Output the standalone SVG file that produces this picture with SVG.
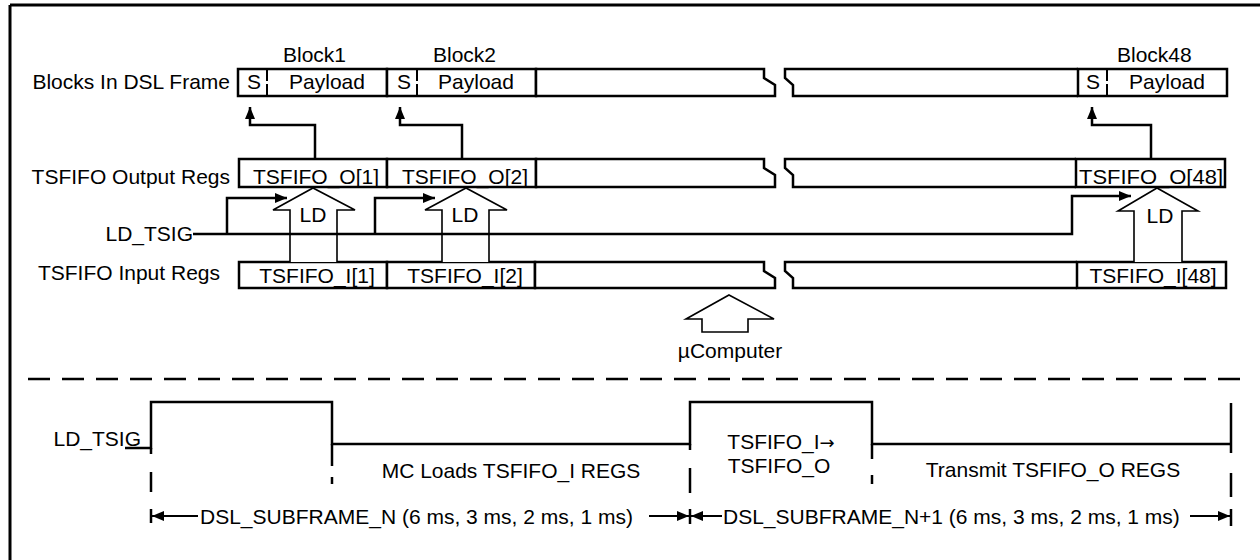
<svg xmlns="http://www.w3.org/2000/svg" width="1260" height="560" viewBox="0 0 1260 560">
<defs>
<style>
text{font-family:"Liberation Sans",Arial,sans-serif;font-size:21px;fill:#000}
.m{text-anchor:middle}
.e{text-anchor:end}
.b{fill:#fff;stroke:#000;stroke-width:2.5}
.ln{fill:none;stroke:#000;stroke-width:2.5}
.th{fill:#fff;stroke:#000;stroke-width:1.6}
.dv{stroke:#000;stroke-width:2;stroke-dasharray:12 3}
</style>
<marker id="ah" viewBox="0 0 12 10" refX="12" refY="5" markerWidth="12" markerHeight="10" markerUnits="userSpaceOnUse" orient="auto">
<path d="M0,0 L12,5 L0,10 Z" fill="#000"/>
</marker>
</defs>
<rect x="0" y="0" width="1260" height="560" fill="#fff"/>
<g id="frame">
<line x1="10" y1="5" x2="1260" y2="5" stroke="#000" stroke-width="3"/>
<line x1="10" y1="5" x2="10" y2="560" stroke="#000" stroke-width="3"/>
</g>
<g id="labels">
<text class="e" x="230" y="89">Blocks In DSL Frame</text>
<text class="e" x="230" y="184">TSFIFO Output Regs</text>
<text class="e" x="220" y="280">TSFIFO Input Regs</text>
<text class="e" x="193" y="241">LD_TSIG</text>
<text x="283" y="62">Block1</text>
<text x="433" y="62">Block2</text>
<text x="1117" y="62">Block48</text>
</g>
<g id="row-frame">
<rect class="b" x="238" y="69" width="149" height="27"/>
<line class="dv" x1="267" y1="69" x2="267" y2="96"/>
<text class="m" x="254" y="89">S</text>
<text class="m" x="327" y="89">Payload</text>
<rect class="b" x="387" y="69" width="149" height="27"/>
<line class="dv" x1="417" y1="69" x2="417" y2="96"/>
<text class="m" x="404" y="89">S</text>
<text class="m" x="476" y="89">Payload</text>
<path class="b" d="M536,69 H764 V78 L775,85 V96 H536 Z"/>
<path class="b" d="M1078,69 H785 V78 L793,85 V96 H1078"/>
<rect class="b" x="1078" y="69" width="149" height="27"/>
<line class="dv" x1="1107" y1="69" x2="1107" y2="96"/>
<text class="m" x="1093" y="89">S</text>
<text class="m" x="1167" y="89">Payload</text>
</g>
<g id="row-output">
<rect class="b" x="239" y="159" width="148" height="28"/>
<text class="m" x="316" y="184">TSFIFO_O[1]</text>
<rect class="b" x="387" y="159" width="149" height="28"/>
<text class="m" x="465" y="184">TSFIFO_O[2]</text>
<path class="b" d="M536,159 H764 V168 L775,175 V187 H536 Z"/>
<path class="b" d="M1076,159 H785 V168 L793,175 V187 H1076"/>
<rect class="b" x="1076" y="159" width="149" height="28"/>
<text class="m" x="1151" y="184" textLength="144" lengthAdjust="spacingAndGlyphs">TSFIFO_O[48]</text>
</g>
<g id="row-input">
<rect class="b" x="239" y="262" width="148" height="26"/>
<text class="m" x="317" y="283">TSFIFO_I[1]</text>
<rect class="b" x="387" y="262" width="148" height="26"/>
<text class="m" x="465" y="283">TSFIFO_I[2]</text>
<path class="b" d="M535,262 H764 V271 L775,278 V288 H535 Z"/>
<path class="b" d="M1077,262 H785 V271 L793,278 V288 H1077"/>
<rect class="b" x="1077" y="262" width="149" height="26"/>
<text class="m" x="1153" y="283">TSFIFO_I[48]</text>
</g>
<g id="ld-arrow-1">
<path class="th" d="M290,262 V210 H273 L313,188 L355,210 H337 V262"/>
<text class="m" x="313" y="222">LD</text>
</g>
<g id="ld-arrow-2">
<path class="th" d="M442,262 V210 H425 L466,188 L507,210 H489 V262"/>
<text class="m" x="465" y="222">LD</text>
</g>
<g id="ld-arrow-48">
<path class="th" d="M1134,262 V211 H1118 L1157,188 L1198,211 H1182 V262"/>
<text class="m" x="1160" y="223">LD</text>
</g>
<g id="ucomputer">
<path class="th" d="M729,295 L774,319 H748 V332 H702 V319 H686 Z"/>
<text class="m" x="730" y="358">µComputer</text>
</g>
<g id="connectors">
<path class="ln" d="M315,159 V125 H250 V107" marker-end="url(#ah)"/>
<path class="ln" d="M462,159 V125 H400 V107" marker-end="url(#ah)"/>
<path class="ln" d="M1151,159 V125 H1092 V107" marker-end="url(#ah)"/>
<path class="ln" d="M193,234 H1072 V196 H1131" marker-end="url(#ah)"/>
<path class="ln" d="M227,234 V198 H287" marker-end="url(#ah)"/>
<path class="ln" d="M375,234 V198 H435" marker-end="url(#ah)"/>
</g>
<g id="separator">
<line x1="28" y1="379" x2="1240" y2="379" stroke="#000" stroke-width="2.5" stroke-dasharray="22 12"/>
</g>
<g id="timing">
<text class="e" x="141" y="446">LD_TSIG</text>
<path class="ln" d="M125,448 H151 V402 H332 V444 H690 V402 H872 V444 H1231"/>
<g stroke="#000" stroke-width="2.5">
<line x1="151" y1="448" x2="151" y2="454"/>
<line x1="151" y1="472" x2="151" y2="492"/>
<line x1="151" y1="509" x2="151" y2="523"/>
<line x1="332" y1="444" x2="332" y2="466"/>
<line x1="332" y1="477" x2="332" y2="484"/>
<line x1="690" y1="444" x2="690" y2="450"/>
<line x1="690" y1="468" x2="690" y2="493"/>
<line x1="690" y1="509" x2="690" y2="524"/>
<line x1="872" y1="444" x2="872" y2="459"/>
<line x1="872" y1="475" x2="872" y2="484"/>
<line x1="1231" y1="403" x2="1231" y2="453"/>
<line x1="1231" y1="473" x2="1231" y2="497"/>
<line x1="1231" y1="509" x2="1231" y2="526"/>
</g>
<text class="m" x="511" y="478">MC Loads TSFIFO_I REGS</text>
<text class="m" x="1053" y="477">Transmit TSFIFO_O REGS</text>
<text class="m" x="781" y="449">TSFIFO_I<tspan style="font-family:'DejaVu Sans',sans-serif;font-size:18px">→</tspan></text>
<text class="m" x="779" y="473">TSFIFO_O</text>
<text x="200" y="524">DSL_SUBFRAME_N (6 ms, 3 ms, 2 ms, 1 ms)</text>
<text x="723" y="524">DSL_SUBFRAME_N+1 (6 ms, 3 ms, 2 ms, 1 ms)</text>
<g stroke="#000" stroke-width="2" fill="none">
<line x1="198" y1="516" x2="152" y2="516" marker-end="url(#ah)"/>
<line x1="649" y1="516" x2="689" y2="516" marker-end="url(#ah)"/>
<line x1="722" y1="516" x2="691" y2="516" marker-end="url(#ah)"/>
<line x1="1190" y1="516" x2="1230" y2="516" marker-end="url(#ah)"/>
</g>
</g>
</svg>
